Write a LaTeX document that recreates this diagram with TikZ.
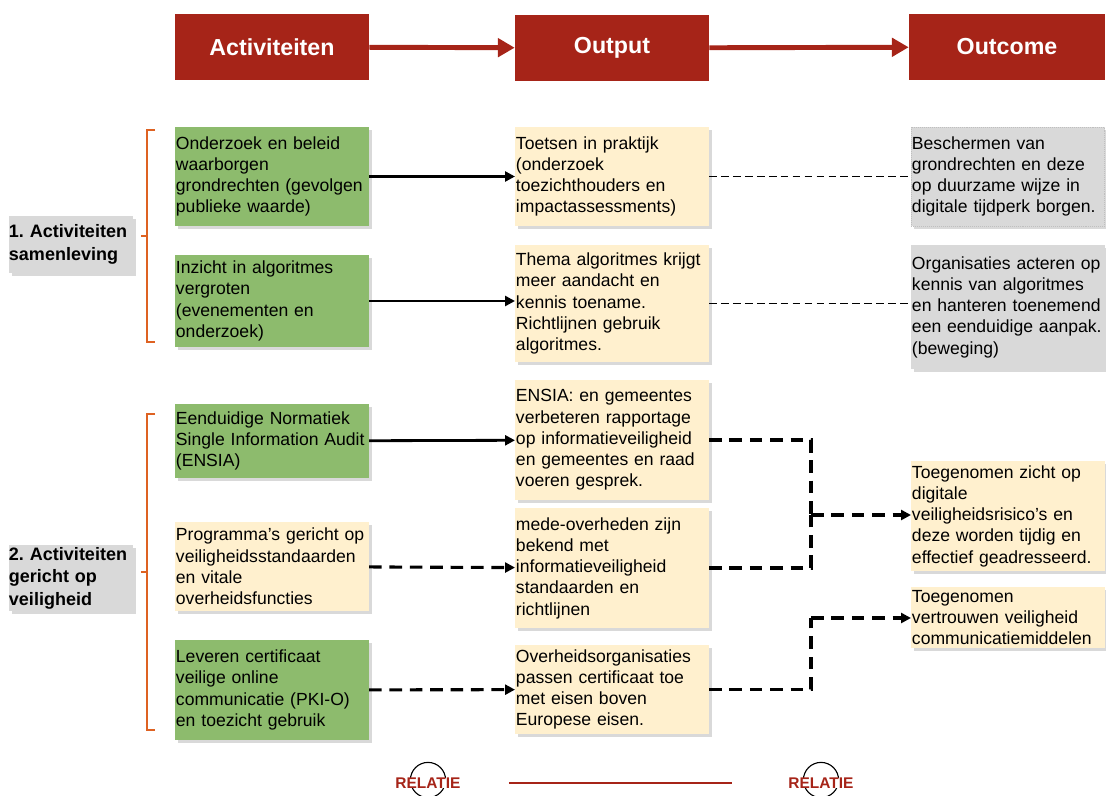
\documentclass[tikz,border=0pt]{standalone}
\usepackage{fontspec}
\setmainfont{Liberation Sans}
\usepackage{tikz}
\usetikzlibrary{shapes,arrows,positioning,arrows.meta,shadows}
\usepackage{xcolor}

\definecolor{headred}{RGB}{166,36,24}
\definecolor{actgreen}{RGB}{141,187,109}
\definecolor{outyellow}{RGB}{255,240,206}
\definecolor{labgrey}{RGB}{217,217,217}
\definecolor{braceorange}{RGB}{222,98,34}

\begin{document}
\frenchspacing
\begin{tikzpicture}[x=0.025cm,y=-0.025cm]
    \tikzstyle{head} = [rectangle, fill=headred, text=white, minimum width=4.85cm,
    minimum height=1.65cm, font=\fontsize{16.5}{20}\selectfont\bfseries]
    \tikzstyle{box} = [rectangle, text width=4.8cm, inner xsep=0.5pt, inner ysep=0pt,
    align=left, font=\fontsize{12.5}{15.1}\selectfont,
    drop shadow={shadow xshift=2pt,shadow yshift=-2pt,opacity=0.3}]
    \tikzstyle{lab} = [rectangle, fill=labgrey, text width=3.1cm, inner xsep=0pt,
    inner ysep=0pt, align=left, font=\fontsize{12.8}{16}\selectfont\bfseries,
    drop shadow={shadow xshift=2pt,shadow yshift=-2pt,opacity=0.3}]
    \tikzstyle{rel} = [fill=white, inner sep=0pt, text=headred,
    font=\fontsize{11}{13}\selectfont\bfseries]
    \tikzstyle{redarrow} = [draw=headred, line width=3.5pt, -{Triangle[length=12pt,width=13pt]}]
    \tikzstyle{line} = [draw, line width=2pt, -{Triangle[length=7pt,width=7pt]}]
    \tikzstyle{dashline} = [draw, line width=2.2pt, dash pattern=on 9pt off 5.5pt,
    -{Triangle[length=7pt,width=7pt]}]
    \tikzstyle{dashplain} = [draw, line width=2.2pt, dash pattern=on 9pt off 5.5pt]
    \tikzstyle{thindash} = [draw, line width=1.1pt, dash pattern=on 5.5pt off 3pt]
    \tikzstyle{brace} = [draw=braceorange, line width=1pt]

    \useasboundingbox (0,0) rectangle (1106,796);

    % Headers
    \node[head] (hact) at (272,47) {Activiteiten};
    \node[head] (hout) at (612,48) {Output};
    \node[head, minimum width=4.9cm] (hoc) at (1007,47) {Outcome};
    \draw[redarrow] (hact) -- (hout);
    \draw[redarrow] (hout) -- (hoc);

    % Activities
    \node[box, fill=actgreen, minimum height=2.475cm] (act1) at (272,176.5)
      {Onderzoek en beleid\\waarborgen\\grondrechten (gevolgen\\publieke waarde)};
    \node[box, fill=actgreen, minimum height=2.3cm] (act2) at (272,301)
      {Inzicht in algoritmes\\vergroten\\(evenementen en\\onderzoek)};
    \node[box, fill=actgreen, minimum height=1.85cm] (act3) at (272,441)
      {Eenduidige Normatiek\\Single Information Audit\\(ENSIA)};
    \node[box, fill=outyellow, minimum height=2.225cm] (act4) at (272,566.5)
      {Programma’s gericht op\\veiligheidsstandaarden\\en vitale\\overheidsfuncties};
    \node[box, fill=actgreen, minimum height=2.5cm] (act5) at (272,690)
      {Leveren certificaat\\veilige online\\communicatie (PKI-O)\\en toezicht gebruik};

    % Output
    \node[box, fill=outyellow, minimum height=2.475cm] (out1) at (612,176.5)
      {Toetsen in praktijk\\(onderzoek\\toezichthouders en\\impactassessments)};
    \node[box, fill=outyellow, minimum height=2.925cm] (out2) at (612,303.5)
      {Thema algoritmes krijgt\\meer aandacht en\\kennis toename.\\Richtlijnen gebruik\\algoritmes.};
    \node[box, fill=outyellow, minimum height=3cm] (out3) at (612,440)
      {ENSIA: en gemeentes\\verbeteren rapportage\\op informatieveiligheid\\en gemeentes en raad\\voeren gesprek.};
    \node[box, fill=outyellow, minimum height=3cm] (out4) at (612,568)
      {mede-overheden zijn\\bekend met\\informatieveiligheid\\standaarden en\\richtlijnen};
    \node[box, fill=outyellow, minimum height=2.225cm] (out5) at (612,689.5)
      {Overheidsorganisaties\\passen certificaat toe\\met eisen boven\\Europese eisen.};

    % Outcome
    \node[box, fill=labgrey, draw=gray!50, densely dotted, minimum height=2.475cm] (oc1) at (1008,176.5)
      {Beschermen van\\grondrechten en deze\\op duurzame wijze in\\digitale tijdperk borgen.};
    \node[box, fill=labgrey, minimum height=3.1cm] (oc2) at (1008,307)
      {Organisaties acteren op\\kennis van algoritmes\\en hanteren toenemend\\een eenduidige aanpak.\\(beweging)};
    \node[box, fill=outyellow, minimum height=2.75cm] (oc3) at (1008,516)
      {Toegenomen zicht op\\digitale\\veiligheidsrisico’s en\\deze worden tijdig en\\effectief geadresseerd.};
    \node[box, fill=outyellow, minimum height=1.525cm] (oc4) at (1008,617.5)
      {Toegenomen\\vertrouwen veiligheid\\communicatiemiddelen};

    % Groups
    \node[lab, minimum height=1.425cm] (lab1) at (71,244.5) {1. Activiteiten\\samenleving};
    \node[lab, minimum height=1.65cm] (lab2) at (71,578) {2. Activiteiten\\gericht op\\veiligheid};
    \draw[brace] (155,130) -- (147,130) -- (147,342) -- (155,342);
    \draw[brace] (147,236) -- (141,236);
    \draw[brace] (155,414) -- (147,414) -- (147,730) -- (155,730);
    \draw[brace] (147,572) -- (141,572);

    % Connectors
    \draw[line] (act1) -- (out1);
    \draw[line] (act2.east) -- (act2.east -| out2.west);
    \draw[line] (act3) -- (out3);
    \draw[dashline] (act4) -- (out4);
    \draw[dashline] (act5) -- (out5);
    \draw[thindash] (out1) -- (oc1);
    \draw[thindash] (out2.east) -- (out2.east -| oc2.west);

    \coordinate (join1) at (811,515);
    \coordinate (join2) at (811,618);
    \draw[dashplain] (out3.east) -| (join1);
    \draw[dashplain] (out4.east) -| (join1);
    \draw[dashline] (join1) -- (join1 -| oc3.west);
    \draw[dashplain] (out5.east) -| (join2);
    \draw[dashline] (join2) -- (join2 -| oc4.west);

    % Relatie
    \node[circle, draw, line width=0.8pt, minimum size=0.88cm, inner sep=0pt] (ring1) at (428,780) {};
    \node[circle, draw, line width=0.8pt, minimum size=0.88cm, inner sep=0pt] (ring2) at (821,780) {};
    \node[rel] (rel1) at (428,783) {RELATIE};
    \node[rel] (rel2) at (821,783) {RELATIE};
    \draw[draw=headred, line width=1.2pt, shorten <=1.2cm, shorten >=1.4cm] (rel1.east) -- (rel2.west);

  \end{tikzpicture}
\end{document}
